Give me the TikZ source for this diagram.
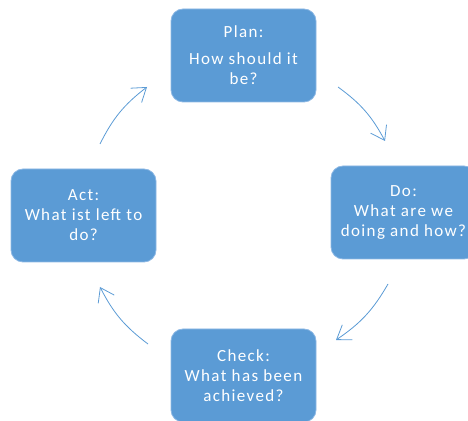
\documentclass[tikz,border=0pt]{standalone}
\usepackage{fontspec}
\setmainfont{Carlito}[LetterSpace=8]
\usetikzlibrary{arrows.meta}
\definecolor{boxblue}{HTML}{5B9BD5}
\definecolor{edgeblue}{HTML}{8DB8E4}

\begin{document}
\begin{tikzpicture}
[
    x=1pt, y=1pt,
    phase/.style={fill=boxblue, draw=edgeblue, line width=0.8pt, rounded corners=12pt,
        minimum width=145pt, minimum height=93pt, text=white, align=center,
        font=\fontsize{17}{20}\selectfont, inner sep=0pt},
    cycle/.style={draw=boxblue, line width=0.8pt, -{Straight Barb[length=13pt,width=18pt]}, bend left=13},
]
\useasboundingbox (0,0) rectangle (468,420);
\clip (0,0) rectangle (468,420);
% the four phases
\node [phase] (plan) at (243.5,364.5) {Plan:\\[7pt]How should it\\be?};
\node [phase] (do) at (403.5,207.5) {Do:\\What are we\\doing and how?};
\node [phase] (check) at (243.5,44.5) {Check:\\What has been\\achieved?};
\node [phase] (act) at (83.5,204.5) {Act:\\What ist left to\\do?};
% arc ends
\coordinate (planout) at (338,333);
\coordinate (doin) at (385,279);
\coordinate (doout) at (388,136);
\coordinate (checkin) at (336,80);
\coordinate (checkout) at (148,76);
\coordinate (actin) at (100,133);
\coordinate (actout) at (100,276);
\coordinate (planin) at (147,333);
\draw [cycle] (planout) to (doin);
\draw [cycle] (doout) to (checkin);
\draw [cycle] (checkout) to (actin);
\draw [cycle] (actout) to (planin);
\end{tikzpicture}
\end{document}
